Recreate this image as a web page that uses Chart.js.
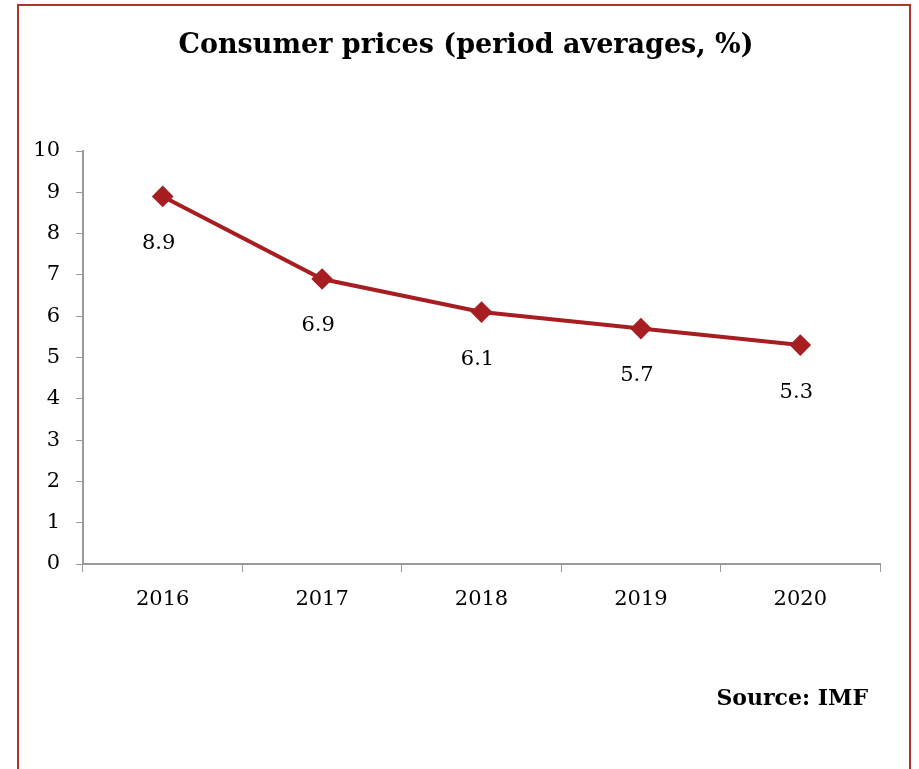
<!DOCTYPE html>
<html>
<head>
<meta charset="utf-8">
<title>Consumer prices</title>
<script src="https://cdn.jsdelivr.net/npm/chart.js@4/dist/chart.umd.min.js"></script>
<style>
  html, body { margin: 0; padding: 0; background: #fff; }
  #wrap { position: relative; width: 919px; height: 769px; overflow: hidden; }
  #frame {
    position: absolute; left: 17px; top: 4px; width: 894px; height: 800px;
    border: 2px solid #b3322a; box-sizing: border-box;
  }
  canvas { position: absolute; left: 0; top: 0; }
</style>
</head>
<body>
<div id="wrap">
  <div id="frame"></div>
  <canvas id="myChart" width="919" height="769"></canvas>
</div>
<script>
const years = ['2016', '2017', '2018', '2019', '2020'];
const inflation = [8.9, 6.9, 6.1, 5.7, 5.3];
const yTicks = [0, 1, 2, 3, 4, 5, 6, 7, 8, 9, 10];

const titleText = 'Consumer prices (period averages, %)';
const sourceText = 'Source: IMF';

const lineColor = '#a61e22';
const axisColor = '#9a9a9a';
const serif = "'DejaVu Serif', 'Liberation Serif', serif";

// title, source note and the value labels under each point
const textPlugin = {
  id: 'textPlugin',
  afterDraw(chart) {
    const ctx = chart.ctx;
    ctx.save();
    ctx.fillStyle = '#000';
    ctx.textBaseline = 'middle';

    ctx.font = 'bold 27px ' + serif;
    ctx.textAlign = 'center';
    ctx.fillText(titleText, 466, 46);

    ctx.font = 'bold 22px ' + serif;
    ctx.textAlign = 'right';
    ctx.fillText(sourceText, 868, 699);

    ctx.font = '21px ' + serif;
    ctx.textAlign = 'center';
    const meta = chart.getDatasetMeta(0);
    meta.data.forEach((pt, i) => {
      ctx.fillText(inflation[i].toFixed(1), pt.x - 4, pt.y + 47);
    });
    ctx.restore();
  },
};

function createChart() {
  const ctx = document.getElementById('myChart').getContext('2d');
  return new Chart(ctx, {
    type: 'line',
    data: {
      labels: years,
      datasets: [
        {
          data: inflation,
          borderColor: lineColor,
          backgroundColor: lineColor,
          borderWidth: 4,
          pointStyle: 'rectRot',
          pointRadius: 8,
          pointHoverRadius: 8,
          tension: 0,
          fill: false,
        },
      ],
    },
    options: {
      responsive: false,
      animation: false,
      layout: {
        padding: { left: 0, top: 151, right: 39, bottom: 145 },
      },
      plugins: {
        legend: { display: false },
        tooltip: { enabled: false },
      },
      scales: {
        x: {
          offset: true,
          border: { color: axisColor, width: 2 },
          grid: {
            display: true,
            drawOnChartArea: false,
            drawTicks: true,
            tickLength: 8,
            color: axisColor,
            offset: true,
          },
          ticks: {
            color: '#000',
            padding: 15,
            font: { family: serif, size: 21 },
          },
          afterFit(scale) {
            scale.height = 60;
          },
        },
        y: {
          min: 0,
          max: 10,
          afterBuildTicks(scale) {
            scale.ticks = yTicks.map((v) => ({ value: v }));
          },
          border: { color: axisColor, width: 2 },
          grid: {
            display: true,
            drawOnChartArea: false,
            drawTicks: true,
            tickLength: 7,
            color: axisColor,
          },
          ticks: {
            color: '#000',
            padding: 16,
            font: { family: serif, size: 21 },
          },
          afterFit(scale) {
            scale.width = 83;
          },
        },
      },
    },
    plugins: [textPlugin],
  });
}

const chart = createChart();
</script>
</body>
</html>
